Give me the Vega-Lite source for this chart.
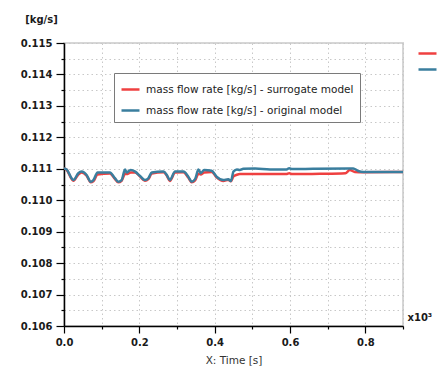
{
  "$schema": "https://vega.github.io/schema/vega-lite/v6.json",
  "width": 339,
  "height": 283,
  "autosize": {"type": "none"},
  "padding": {"left": 64, "top": 43, "right": 36, "bottom": 54},
  "background": "white",
  "config": {
    "view": {"stroke": "#d6d6d6", "strokeWidth": 2},
    "font": "DejaVu Sans",
    "axis": {"labelOverlap": false}
  },
  "data": {
    "values": [
      {"t": 0, "v": 0.11101, "series": "mass flow rate [kg/s] - surrogate model"},
      {"t": 7, "v": 0.11097, "series": "mass flow rate [kg/s] - surrogate model"},
      {"t": 20, "v": 0.11068, "series": "mass flow rate [kg/s] - surrogate model"},
      {"t": 25, "v": 0.11062, "series": "mass flow rate [kg/s] - surrogate model"},
      {"t": 38, "v": 0.11082, "series": "mass flow rate [kg/s] - surrogate model"},
      {"t": 47, "v": 0.11088, "series": "mass flow rate [kg/s] - surrogate model"},
      {"t": 60, "v": 0.11078, "series": "mass flow rate [kg/s] - surrogate model"},
      {"t": 71, "v": 0.11057, "series": "mass flow rate [kg/s] - surrogate model"},
      {"t": 78, "v": 0.11060, "series": "mass flow rate [kg/s] - surrogate model"},
      {"t": 89, "v": 0.11082, "series": "mass flow rate [kg/s] - surrogate model"},
      {"t": 122, "v": 0.11085, "series": "mass flow rate [kg/s] - surrogate model"},
      {"t": 135, "v": 0.11068, "series": "mass flow rate [kg/s] - surrogate model"},
      {"t": 144, "v": 0.11057, "series": "mass flow rate [kg/s] - surrogate model"},
      {"t": 153, "v": 0.11062, "series": "mass flow rate [kg/s] - surrogate model"},
      {"t": 162, "v": 0.11084, "series": "mass flow rate [kg/s] - surrogate model"},
      {"t": 166, "v": 0.11083, "series": "mass flow rate [kg/s] - surrogate model"},
      {"t": 177, "v": 0.11088, "series": "mass flow rate [kg/s] - surrogate model"},
      {"t": 189, "v": 0.11088, "series": "mass flow rate [kg/s] - surrogate model"},
      {"t": 202, "v": 0.11075, "series": "mass flow rate [kg/s] - surrogate model"},
      {"t": 215, "v": 0.11062, "series": "mass flow rate [kg/s] - surrogate model"},
      {"t": 224, "v": 0.11067, "series": "mass flow rate [kg/s] - surrogate model"},
      {"t": 233, "v": 0.11085, "series": "mass flow rate [kg/s] - surrogate model"},
      {"t": 264, "v": 0.11089, "series": "mass flow rate [kg/s] - surrogate model"},
      {"t": 273, "v": 0.11078, "series": "mass flow rate [kg/s] - surrogate model"},
      {"t": 281, "v": 0.11061, "series": "mass flow rate [kg/s] - surrogate model"},
      {"t": 295, "v": 0.11088, "series": "mass flow rate [kg/s] - surrogate model"},
      {"t": 317, "v": 0.11089, "series": "mass flow rate [kg/s] - surrogate model"},
      {"t": 330, "v": 0.11072, "series": "mass flow rate [kg/s] - surrogate model"},
      {"t": 339, "v": 0.11057, "series": "mass flow rate [kg/s] - surrogate model"},
      {"t": 348, "v": 0.11063, "series": "mass flow rate [kg/s] - surrogate model"},
      {"t": 357, "v": 0.11084, "series": "mass flow rate [kg/s] - surrogate model"},
      {"t": 363, "v": 0.11082, "series": "mass flow rate [kg/s] - surrogate model"},
      {"t": 372, "v": 0.11088, "series": "mass flow rate [kg/s] - surrogate model"},
      {"t": 392, "v": 0.11090, "series": "mass flow rate [kg/s] - surrogate model"},
      {"t": 405, "v": 0.11073, "series": "mass flow rate [kg/s] - surrogate model"},
      {"t": 423, "v": 0.11061, "series": "mass flow rate [kg/s] - surrogate model"},
      {"t": 436, "v": 0.11065, "series": "mass flow rate [kg/s] - surrogate model"},
      {"t": 443, "v": 0.11060, "series": "mass flow rate [kg/s] - surrogate model"},
      {"t": 450, "v": 0.11076, "series": "mass flow rate [kg/s] - surrogate model"},
      {"t": 459, "v": 0.11081, "series": "mass flow rate [kg/s] - surrogate model"},
      {"t": 467, "v": 0.11083, "series": "mass flow rate [kg/s] - surrogate model"},
      {"t": 520, "v": 0.11083, "series": "mass flow rate [kg/s] - surrogate model"},
      {"t": 590, "v": 0.11083, "series": "mass flow rate [kg/s] - surrogate model"},
      {"t": 598, "v": 0.11086, "series": "mass flow rate [kg/s] - surrogate model"},
      {"t": 605, "v": 0.11083, "series": "mass flow rate [kg/s] - surrogate model"},
      {"t": 680, "v": 0.11084, "series": "mass flow rate [kg/s] - surrogate model"},
      {"t": 747, "v": 0.11086, "series": "mass flow rate [kg/s] - surrogate model"},
      {"t": 759, "v": 0.11096, "series": "mass flow rate [kg/s] - surrogate model"},
      {"t": 772, "v": 0.11090, "series": "mass flow rate [kg/s] - surrogate model"},
      {"t": 795, "v": 0.11089, "series": "mass flow rate [kg/s] - surrogate model"},
      {"t": 900, "v": 0.11090, "series": "mass flow rate [kg/s] - surrogate model"},
      {"t": 0, "v": 0.11101, "series": "mass flow rate [kg/s] - original model"},
      {"t": 7, "v": 0.11098, "series": "mass flow rate [kg/s] - original model"},
      {"t": 20, "v": 0.11070, "series": "mass flow rate [kg/s] - original model"},
      {"t": 25, "v": 0.11064, "series": "mass flow rate [kg/s] - original model"},
      {"t": 38, "v": 0.11086, "series": "mass flow rate [kg/s] - original model"},
      {"t": 47, "v": 0.11091, "series": "mass flow rate [kg/s] - original model"},
      {"t": 60, "v": 0.11080, "series": "mass flow rate [kg/s] - original model"},
      {"t": 71, "v": 0.11059, "series": "mass flow rate [kg/s] - original model"},
      {"t": 78, "v": 0.11064, "series": "mass flow rate [kg/s] - original model"},
      {"t": 89, "v": 0.11088, "series": "mass flow rate [kg/s] - original model"},
      {"t": 122, "v": 0.11088, "series": "mass flow rate [kg/s] - original model"},
      {"t": 135, "v": 0.11070, "series": "mass flow rate [kg/s] - original model"},
      {"t": 144, "v": 0.11059, "series": "mass flow rate [kg/s] - original model"},
      {"t": 153, "v": 0.11064, "series": "mass flow rate [kg/s] - original model"},
      {"t": 162, "v": 0.11098, "series": "mass flow rate [kg/s] - original model"},
      {"t": 166, "v": 0.11088, "series": "mass flow rate [kg/s] - original model"},
      {"t": 177, "v": 0.11096, "series": "mass flow rate [kg/s] - original model"},
      {"t": 189, "v": 0.11091, "series": "mass flow rate [kg/s] - original model"},
      {"t": 202, "v": 0.11077, "series": "mass flow rate [kg/s] - original model"},
      {"t": 215, "v": 0.11064, "series": "mass flow rate [kg/s] - original model"},
      {"t": 224, "v": 0.11070, "series": "mass flow rate [kg/s] - original model"},
      {"t": 233, "v": 0.11088, "series": "mass flow rate [kg/s] - original model"},
      {"t": 264, "v": 0.11091, "series": "mass flow rate [kg/s] - original model"},
      {"t": 273, "v": 0.11080, "series": "mass flow rate [kg/s] - original model"},
      {"t": 281, "v": 0.11064, "series": "mass flow rate [kg/s] - original model"},
      {"t": 295, "v": 0.11091, "series": "mass flow rate [kg/s] - original model"},
      {"t": 317, "v": 0.11091, "series": "mass flow rate [kg/s] - original model"},
      {"t": 330, "v": 0.11075, "series": "mass flow rate [kg/s] - original model"},
      {"t": 339, "v": 0.11059, "series": "mass flow rate [kg/s] - original model"},
      {"t": 348, "v": 0.11067, "series": "mass flow rate [kg/s] - original model"},
      {"t": 357, "v": 0.11098, "series": "mass flow rate [kg/s] - original model"},
      {"t": 363, "v": 0.11086, "series": "mass flow rate [kg/s] - original model"},
      {"t": 372, "v": 0.11096, "series": "mass flow rate [kg/s] - original model"},
      {"t": 392, "v": 0.11094, "series": "mass flow rate [kg/s] - original model"},
      {"t": 405, "v": 0.11075, "series": "mass flow rate [kg/s] - original model"},
      {"t": 423, "v": 0.11064, "series": "mass flow rate [kg/s] - original model"},
      {"t": 436, "v": 0.11067, "series": "mass flow rate [kg/s] - original model"},
      {"t": 443, "v": 0.11061, "series": "mass flow rate [kg/s] - original model"},
      {"t": 450, "v": 0.11091, "series": "mass flow rate [kg/s] - original model"},
      {"t": 459, "v": 0.11098, "series": "mass flow rate [kg/s] - original model"},
      {"t": 467, "v": 0.11096, "series": "mass flow rate [kg/s] - original model"},
      {"t": 476, "v": 0.11100, "series": "mass flow rate [kg/s] - original model"},
      {"t": 507, "v": 0.11101, "series": "mass flow rate [kg/s] - original model"},
      {"t": 547, "v": 0.11098, "series": "mass flow rate [kg/s] - original model"},
      {"t": 591, "v": 0.11098, "series": "mass flow rate [kg/s] - original model"},
      {"t": 598, "v": 0.11102, "series": "mass flow rate [kg/s] - original model"},
      {"t": 605, "v": 0.11099, "series": "mass flow rate [kg/s] - original model"},
      {"t": 662, "v": 0.11100, "series": "mass flow rate [kg/s] - original model"},
      {"t": 759, "v": 0.11101, "series": "mass flow rate [kg/s] - original model"},
      {"t": 768, "v": 0.11101, "series": "mass flow rate [kg/s] - original model"},
      {"t": 781, "v": 0.11093, "series": "mass flow rate [kg/s] - original model"},
      {"t": 795, "v": 0.11090, "series": "mass flow rate [kg/s] - original model"},
      {"t": 900, "v": 0.11090, "series": "mass flow rate [kg/s] - original model"}
    ]
  },
  "encoding": {
    "x": {
      "field": "t", "type": "quantitative",
      "scale": {"domain": [0, 900], "nice": false, "zero": false},
      "axis": {
        "title": "X: Time [s]",
        "titleFont": "DejaVu Sans", "titleFontSize": 10.5, "titleFontWeight": "normal", "titleColor": "#333333",
        "titlePadding": 8,
        "values": [0, 100, 200, 300, 400, 500, 600, 700, 800, 900],
        "labelExpr": "datum.value == 900 ? 'x10³' : (datum.value % 200 == 0 ? format(datum.value / 1000, '.1f') : '')",
        "labelFont": "DejaVu Sans", "labelFontSize": 10, "labelFontWeight": "bold", "labelColor": "#1a1a1a",
        "labelFlush": false,
        "labelOverlap": false,
        "labelAlign": {"condition": {"test": "datum.value == 900", "value": "left"}, "value": "center"},
        "labelBaseline": {"condition": {"test": "datum.value == 900", "value": "alphabetic"}, "value": "top"},
        "labelPadding": {"condition": {"test": "datum.value == 900", "value": -9}, "value": 4},
        "labelOffset": {"condition": {"test": "datum.value == 900", "value": 4}, "value": 0},
        "ticks": true,
        "tickSize": {"condition": {"test": "datum.value % 200 == 0", "value": 7}, "value": 3},
        "domainColor": "#000000", "domainWidth": 1.5,
        "tickColor": "#000000", "tickWidth": 1.2,
        "grid": true, "gridColor": "#c8c8c8", "gridDash": [1.5, 3], "gridWidth": 1
      }
    },
    "y": {
      "field": "v", "type": "quantitative",
      "scale": {"domain": [0.106, 0.115], "nice": false, "zero": false},
      "axis": {
        "title": "[kg/s]",
        "titleAngle": 0, "titleAlign": "center", "titleBaseline": "middle",
        "titleX": -23, "titleY": -24,
        "titleFont": "DejaVu Sans", "titleFontSize": 10, "titleFontWeight": "bold", "titleColor": "#1a1a1a",
        "values": [0.106, 0.1065, 0.107, 0.1075, 0.108, 0.1085, 0.109, 0.1095, 0.11, 0.1105, 0.111, 0.1115, 0.112, 0.1125, 0.113, 0.1135, 0.114, 0.1145, 0.115],
        "labelExpr": "abs(datum.value * 1000 - round(datum.value * 1000)) < 0.01 ? format(datum.value, '.3f') : ''",
        "labelFont": "DejaVu Sans", "labelFontSize": 10, "labelFontWeight": "bold", "labelColor": "#1a1a1a",
        "labelPadding": 4,
        "labelOverlap": false,
        "ticks": true,
        "tickSize": {"condition": {"test": "abs(datum.value * 1000 - round(datum.value * 1000)) < 0.01", "value": 8}, "value": 3},
        "domainColor": "#000000", "domainWidth": 1.5,
        "tickColor": "#000000", "tickWidth": 1.2,
        "grid": true, "gridColor": "#c8c8c8", "gridDash": [1.5, 3], "gridWidth": 1
      }
    }
  },
  "layer": [
    {
      "mark": {"type": "line", "strokeWidth": 2.5, "interpolate": "monotone", "clip": true},
      "encoding": {
        "color": {
          "field": "series", "type": "nominal",
          "scale": {
            "domain": ["mass flow rate [kg/s] - surrogate model", "mass flow rate [kg/s] - original model"],
            "range": ["#ef4040", "#3a7e9e"]
          },
          "legend": {
            "title": null,
            "orient": "none", "legendX": 50, "legendY": 30,
            "direction": "vertical",
            "fillColor": "white", "strokeColor": "#7a7a7a",
            "padding": 6,
            "symbolType": "stroke", "symbolSize": 324, "symbolStrokeWidth": 2.5,
            "labelFont": "DejaVu Sans", "labelFontSize": 10.5, "labelColor": "#222222",
            "labelLimit": 0, "labelOffset": 5, "rowPadding": 5
          }
        }
      }
    },
    {
      "transform": [{"filter": "datum.t == 0"}],
      "mark": {"type": "line", "strokeWidth": 2.5, "strokeCap": "butt"},
      "encoding": {
        "color": {
          "field": "series", "type": "nominal",
          "scale": {
            "domain": ["mass flow rate [kg/s] - surrogate model", "mass flow rate [kg/s] - original model"],
            "range": ["#ef4040", "#3a7e9e"]
          },
          "legend": {
            "title": null,
            "orient": "none", "legendX": 353, "legendY": 0,
            "direction": "vertical",
            "padding": 0,
            "symbolType": "stroke", "symbolSize": 324, "symbolStrokeWidth": 2.5,
            "labelExpr": "''", "labelOffset": 0, "labelFontSize": 1,
            "rowPadding": -3
          }
        }
      }
    }
  ],
  "resolve": {"scale": {"color": "independent"}}
}
